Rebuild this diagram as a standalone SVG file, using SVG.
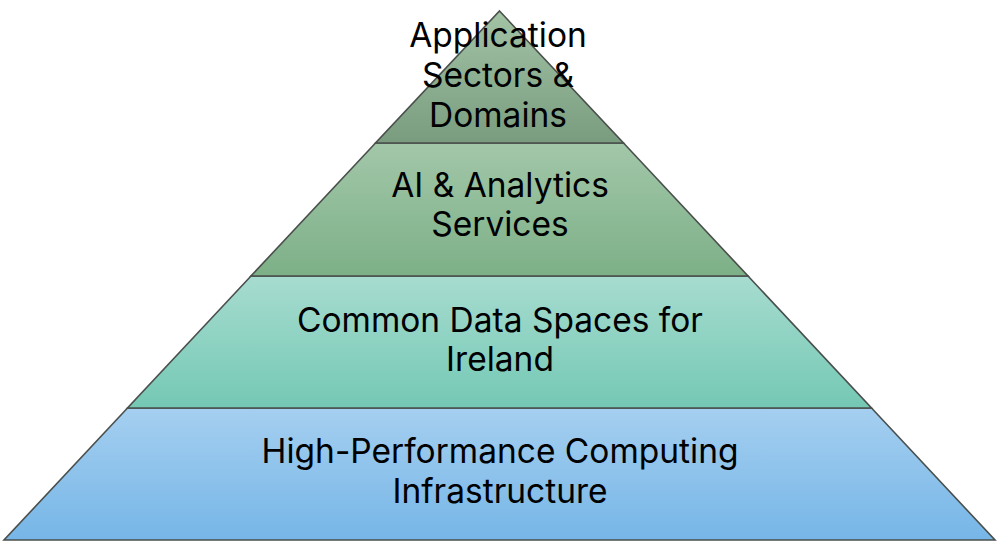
<svg xmlns="http://www.w3.org/2000/svg" width="1000" height="546" viewBox="0 0 1000 546">
<defs>
<linearGradient id="g1" x1="0" y1="0" x2="0" y2="1"><stop offset="0" stop-color="#a3c3a5"/><stop offset="1" stop-color="#799c7f"/></linearGradient>
<linearGradient id="g2" x1="0" y1="0" x2="0" y2="1"><stop offset="0" stop-color="#a2c7a9"/><stop offset="1" stop-color="#7db087"/></linearGradient>
<linearGradient id="g3" x1="0" y1="0" x2="0" y2="1"><stop offset="0" stop-color="#a7dcd0"/><stop offset="1" stop-color="#74c8b4"/></linearGradient>
<linearGradient id="g4" x1="0" y1="0" x2="0" y2="1"><stop offset="0" stop-color="#a5cff0"/><stop offset="1" stop-color="#76b6e7"/></linearGradient>
<style>
.layer{stroke:#4a4f4c;stroke-width:1.6;stroke-linejoin:miter}
.t{font-family:Inter,"Open Sans","Liberation Sans",sans-serif;font-size:33.5px;fill:#000;text-anchor:middle}
</style>
</defs>
<rect width="1000" height="546" fill="#ffffff"/>
<g id="layer-hpc">
<polygon class="layer" fill="url(#g4)" points="127.5,408 871.5,408 995,540 4,540"/>
<text class="t" x="500" y="463">High-Performance Computing</text>
<text class="t" x="500" y="503">Infrastructure</text>
</g>
<g id="layer-data">
<polygon class="layer" fill="url(#g3)" points="251,276 748,276 871.5,408 127.5,408"/>
<text class="t" x="500" y="332">Common Data Spaces for</text>
<text class="t" x="500" y="371">Ireland</text>
</g>
<g id="layer-ai">
<polygon class="layer" fill="url(#g2)" points="375.5,143 623.5,143 748,276 251,276"/>
<text class="t" x="500" y="197">AI &amp; Analytics</text>
<text class="t" x="500" y="236">Services</text>
</g>
<g id="layer-app">
<polygon class="layer" fill="url(#g1)" points="499.5,11 623.5,143 375.5,143"/>
<text class="t" x="498" y="47">Application</text>
<text class="t" x="498" y="87">Sectors &amp;</text>
<text class="t" x="498" y="127">Domains</text>
</g>
<g id="connectors"/>
</svg>
